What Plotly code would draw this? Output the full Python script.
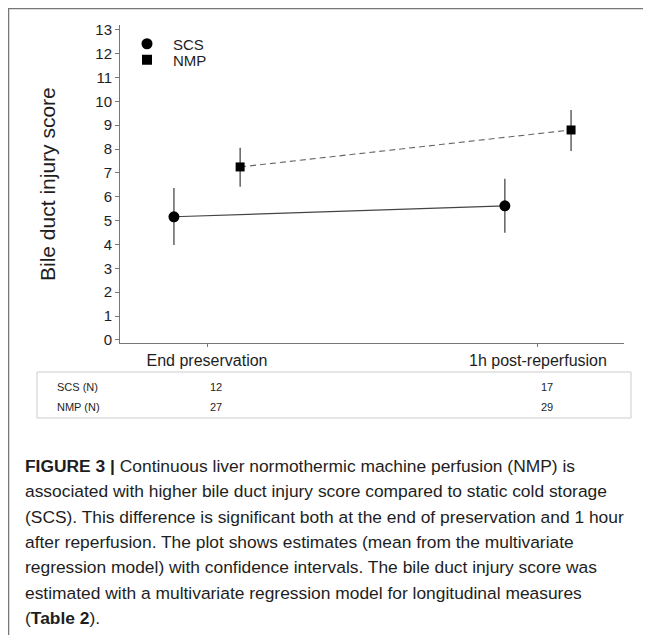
import plotly.graph_objects as go

# ---- data ----
groups = ["SCS", "NMP"]
timepoints = ["End preservation", "1h post-reperfusion"]
scs_mean = [5.16, 5.62]
scs_lo = [3.98, 4.49]
scs_hi = [6.37, 6.75]
nmp_mean = [7.25, 8.80]
nmp_lo = [6.42, 7.92]
nmp_hi = [8.05, 9.64]
scs_n = [12, 17]
nmp_n = [27, 29]
y_ticks = list(range(0, 14))
caption_lines = [
    "<b>FIGURE 3 |</b> Continuous liver normothermic machine perfusion (NMP) is",
    "associated with higher bile duct injury score compared to static cold storage",
    "(SCS). This difference is significant both at the end of preservation and 1 hour",
    "after reperfusion. The plot shows estimates (mean from the multivariate",
    "regression model) with confidence intervals. The bile duct injury score was",
    "estimated with a multivariate regression model for longitudinal measures",
    "(<b>Table 2</b>).",
]

# ---- layout geometry (screen pixels; page body has an 8px margin) ----
OFF = 8
W, H = 651 - OFF, 635 - OFF
L, R, T, B = 120 - OFF, 624 - OFF, 25 - OFF, 343 - OFF
def px(x):
    return (x - OFF - L) / (R - L)
def py(y):
    return (B - (y - OFF)) / (B - T)

dodge = 0.1
base = list(range(len(timepoints)))
x_scs = [b - dodge for b in base]
x_nmp = [b + dodge for b in base]
FONT = "Liberation Sans, Arial, sans-serif"
TXT = "#1e1e1e"

fig = go.Figure()

def add_group(xs, mean, lo, hi, symbol, size, line, name):
    fig.add_trace(go.Scatter(
        x=xs, y=mean, mode="lines+markers", showlegend=False,
        line=line,
        marker=dict(symbol=symbol, size=size, color="black"),
        error_y=dict(type="data", symmetric=False,
                     array=[h - m for h, m in zip(hi, mean)],
                     arrayminus=[m - l for m, l in zip(mean, lo)],
                     color="#3a3a3a", thickness=1.2, width=0),
        name=name,
    ))

add_group(x_scs, scs_mean, scs_lo, scs_hi, "circle", 11,
          dict(color="#444444", width=1.1, dash="solid"), groups[0])
add_group(x_nmp, nmp_mean, nmp_lo, nmp_hi, "square", 9,
          dict(color="#666666", width=1.1, dash="6px,4px"), groups[1])

# legend entries (each in its own legend so spacing can be set)
fig.add_trace(go.Scatter(x=[None], y=[None], mode="markers", name=groups[0],
                         legend="legend",
                         marker=dict(symbol="circle", size=11, color="black")))
fig.add_trace(go.Scatter(x=[None], y=[None], mode="markers", name=groups[1],
                         legend="legend2",
                         marker=dict(symbol="square", size=10, color="black")))

shapes = []
# figure frame (left and top)
shapes.append(dict(type="line", xref="paper", yref="paper",
                   x0=px(8.5), x1=px(8.5), y0=py(7.5), y1=py(660),
                   line=dict(color="#777777", width=1.5)))
shapes.append(dict(type="line", xref="paper", yref="paper",
                   x0=px(8.5), x1=px(680), y0=py(8.5), y1=py(8.5),
                   line=dict(color="#777777", width=1.5)))
# N table box
shapes.append(dict(type="rect", xref="paper", yref="paper",
                   x0=px(37), x1=px(631), y0=py(372), y1=py(418),
                   line=dict(color="#cccccc", width=1)))

annotations = []
row_labels = ["SCS (N)", "NMP (N)"]
row_y = [387, 407]
for lab, yy, ns in zip(row_labels, row_y, [scs_n, nmp_n]):
    annotations.append(dict(text=lab, xref="paper", yref="paper", x=px(55), y=py(yy),
                            xanchor="left", yanchor="middle", showarrow=False,
                            font=dict(family=FONT, size=11, color=TXT)))
    for b, n in zip(base, ns):
        annotations.append(dict(text=str(n), xref="x", yref="paper", x=b + 0.028, y=py(yy),
                                xanchor="center", yanchor="middle", showarrow=False,
                                font=dict(family=FONT, size=11, color=TXT)))

cap_y0 = 466
cap_dy = 25.3
for i, line in enumerate(caption_lines):
    annotations.append(dict(text=line, xref="paper", yref="paper", x=px(23),
                            y=py(cap_y0 + i * cap_dy), xanchor="left", yanchor="middle",
                            showarrow=False,
                            font=dict(family=FONT, size=17.4, color=TXT)))

# y-axis title
annotations.append(dict(text="Bile duct injury score", xref="paper", yref="paper",
                        x=px(47), y=py(184), xanchor="center", yanchor="middle",
                        textangle=-90, showarrow=False,
                        font=dict(family=FONT, size=21, color=TXT)))

legend_common = dict(xanchor="left", yanchor="middle", bgcolor="rgba(0,0,0,0)",
                     font=dict(family=FONT, size=15, color=TXT), itemwidth=42,
                     borderwidth=0)

fig.update_layout(
    width=W, height=H,
    margin=dict(l=L, r=W - R, t=T, b=H - B),
    paper_bgcolor="white", plot_bgcolor="white",
    showlegend=True,
    legend=dict(x=px(147 - 26), y=py(44), **legend_common),
    legend2=dict(x=px(147 - 26), y=py(60), **legend_common),
    shapes=shapes, annotations=annotations,
    xaxis=dict(range=[-0.263, 1.26], tickvals=base, ticktext=timepoints,
               showgrid=False, zeroline=False, showline=True, linecolor="#777777",
               linewidth=1, ticks="outside", ticklen=3, tickcolor="#777777",
               tickfont=dict(family=FONT, size=16, color=TXT)),
    yaxis=dict(range=[-0.13, 13.2], tickvals=y_ticks, showgrid=False, zeroline=False,
               showline=True, linecolor="#777777", linewidth=1, ticks="outside",
               ticklen=4, tickcolor="#777777",
               tickfont=dict(family=FONT, size=15, color=TXT)),
)

fig.write_html("out.html")
